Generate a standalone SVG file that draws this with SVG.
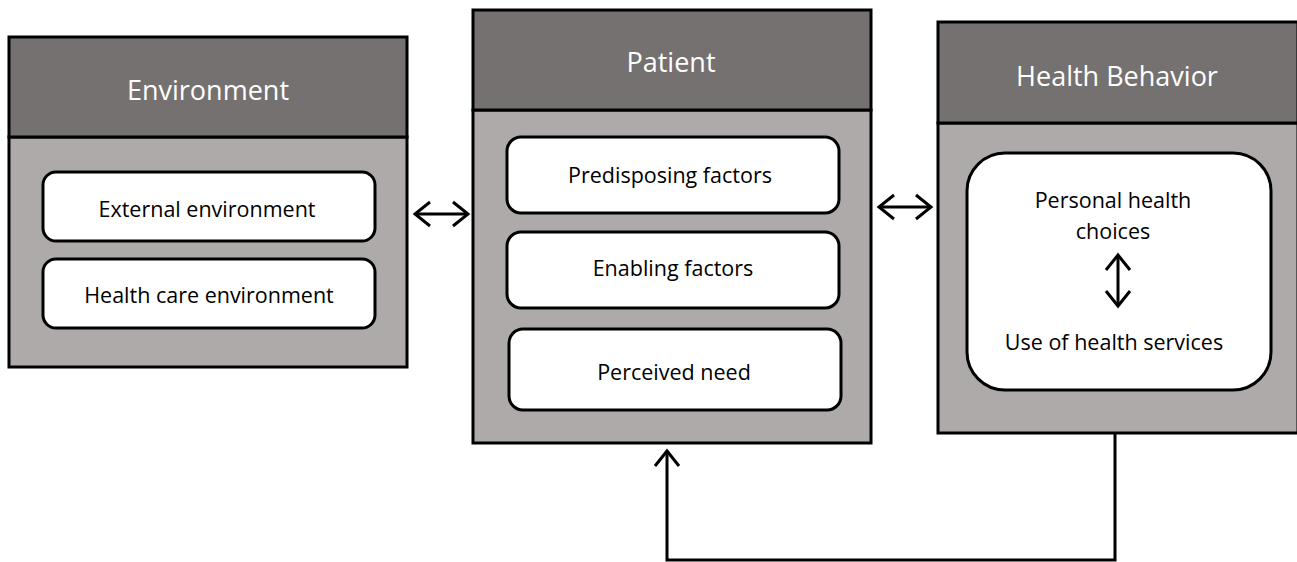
<svg xmlns="http://www.w3.org/2000/svg" width="1297" height="562" viewBox="0 0 1297 562">
<style>
.head{fill:#757171;stroke:#000;stroke-width:3}
.body{fill:#aeaaaa;stroke:#000;stroke-width:3}
.item{fill:#fff;stroke:#000;stroke-width:3}
.title{font-family:"Open Sans","Liberation Sans",sans-serif;font-size:27px;font-weight:500;fill:#fff;text-anchor:middle}
.lbl{font-family:"Open Sans","Liberation Sans",sans-serif;font-size:21.5px;font-weight:500;fill:#000;text-anchor:middle}
.conn{fill:none;stroke:#000;stroke-width:3}
</style>
<defs>
<marker id="chev" markerUnits="userSpaceOnUse" markerWidth="34" markerHeight="34" viewBox="-22 -17 34 34" refX="0" refY="0" orient="auto-start-reverse">
<path d="M-15,-12 L0,0 L-15,12" fill="none" stroke="#000" stroke-width="3"/>
</marker>
</defs>
<rect width="1297" height="562" fill="#fff"/>
<g id="environment">
<rect class="body" x="9" y="137" width="398" height="230"/>
<rect class="head" x="9" y="37" width="398" height="100"/>
<text class="title" x="208" y="100">Environment</text>
<g id="external-environment">
<rect class="item" x="43" y="172" width="332" height="69" rx="13"/>
<text class="lbl" x="207" y="217">External environment</text>
</g>
<g id="health-care-environment">
<rect class="item" x="43" y="259" width="332" height="69" rx="13"/>
<text class="lbl" x="209" y="303">Health care environment</text>
</g>
</g>
<g id="patient">
<rect class="body" x="473" y="110" width="398" height="333"/>
<rect class="head" x="473" y="10" width="398" height="100"/>
<text class="title" x="671" y="72">Patient</text>
<g id="predisposing-factors">
<rect class="item" x="507" y="137" width="332" height="76" rx="14"/>
<text class="lbl" x="670" y="183">Predisposing factors</text>
</g>
<g id="enabling-factors">
<rect class="item" x="507" y="232" width="332" height="76" rx="14"/>
<text class="lbl" x="673" y="276">Enabling factors</text>
</g>
<g id="perceived-need">
<rect class="item" x="509" y="329" width="332" height="81" rx="14"/>
<text class="lbl" x="674" y="380">Perceived need</text>
</g>
</g>
<g id="health-behavior">
<rect class="body" x="938" y="123" width="360" height="310"/>
<rect class="head" x="938" y="22" width="360" height="101"/>
<text class="title" x="1117" y="86">Health Behavior</text>
<g id="health-behavior-inner">
<rect class="item" x="967" y="153" width="304" height="237" rx="38"/>
<text class="lbl" x="1113" y="208">Personal health</text>
<text class="lbl" x="1113" y="239">choices</text>
<line class="conn" x1="1118" y1="255" x2="1118" y2="306" marker-start="url(#chev)" marker-end="url(#chev)"/>
<text class="lbl" x="1114" y="350">Use of health services</text>
</g>
</g>
<g id="connectors">
<line class="conn" x1="415" y1="214" x2="468" y2="214" marker-start="url(#chev)" marker-end="url(#chev)"/>
<line class="conn" x1="879" y1="207" x2="931" y2="207" marker-start="url(#chev)" marker-end="url(#chev)"/>
<path class="conn" d="M1115,433 L1115,560 L667,560 L667,451" marker-end="url(#chev)"/>
</g>
</svg>
